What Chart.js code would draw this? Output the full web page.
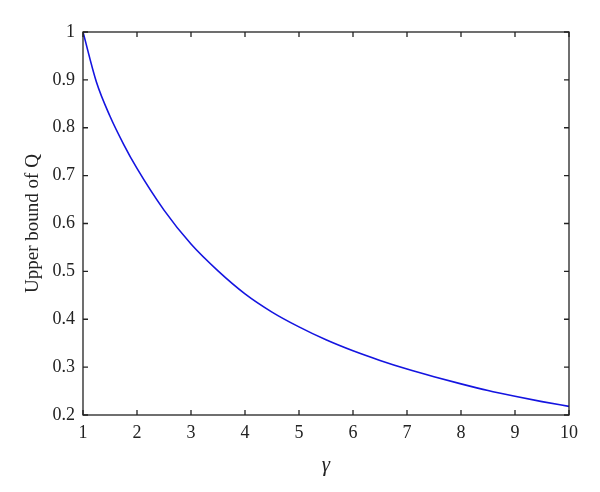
<!DOCTYPE html>
<html>
<head>
<meta charset="utf-8">
<script src="https://cdn.jsdelivr.net/npm/chart.js@4/dist/chart.umd.min.js"></script>
<style>
  html, body { margin: 0; padding: 0; background: #fff; }
  #wrap { width: 600px; height: 492px; }
</style>
</head>
<body>
<div id="wrap"><canvas id="myChart" width="600" height="492"></canvas></div>
<script>
// values
var gammaValues = [1, 1.25, 1.5, 1.75, 2, 2.5, 3, 3.5, 4, 4.5, 5, 5.5, 6, 6.5, 7, 7.5, 8, 8.5, 9, 9.5, 10]
var boundValues = [1, 0.895, 0.824, 0.766, 0.715, 0.628, 0.557, 0.501, 0.453, 0.415, 0.384, 0.357, 0.334, 0.314, 0.296, 0.28, 0.265, 0.251, 0.239, 0.228, 0.218]
var xTickLabels = ['1', '2', '3', '4', '5', '6', '7', '8', '9', '10']
var yTickLabels = ['0.2', '0.3', '0.4', '0.5', '0.6', '0.7', '0.8', '0.9', '1']

var axisColor = '#222'
var serif = '"Liberation Serif", "DejaVu Serif", serif'

var points = []
for (let i = 0; i < gammaValues.length; i++) {
    points.push({x: gammaValues[i], y: boundValues[i]})
}

// box round the plot, with ticks pointing inward on all four sides
const boxPlugin = {
    id: 'box',
    afterDraw(chart) {
        var ctx = chart.ctx
        var a = chart.chartArea
        var xs = chart.scales.x
        var ys = chart.scales.y
        ctx.save()
        ctx.strokeStyle = axisColor
        ctx.lineWidth = 1.3
        ctx.strokeRect(a.left, a.top, a.right - a.left, a.bottom - a.top)
        var len = 5
        ctx.beginPath()
        xs.ticks.forEach(function (t) {
            var px = xs.getPixelForValue(t.value)
            ctx.moveTo(px, a.bottom); ctx.lineTo(px, a.bottom - len)
            ctx.moveTo(px, a.top); ctx.lineTo(px, a.top + len)
        })
        ys.ticks.forEach(function (t) {
            var py = ys.getPixelForValue(t.value)
            ctx.moveTo(a.left, py); ctx.lineTo(a.left + len, py)
            ctx.moveTo(a.right, py); ctx.lineTo(a.right - len, py)
        })
        ctx.stroke()
        ctx.restore()
    }
}

var ctx = document.getElementById('myChart')
var myChart = new Chart(ctx, {
    type: 'line',
    data: {
        datasets: [{
            data: points,
            borderColor: '#1414e0',
            borderWidth: 1.6,
            pointRadius: 0,
            fill: false,
            cubicInterpolationMode: 'monotone'
        }]
    },
    options: {
        responsive: false,
        animation: false,
        layout: { padding: { top: 32, right: 31, left: 0, bottom: 0 } },
        plugins: { legend: { display: false }, tooltip: { enabled: false } },
        scales: {
            x: {
                type: 'linear',
                min: 1,
                max: 10,
                border: { display: false },
                grid: { display: false, drawTicks: false },
                ticks: {
                    stepSize: 1,
                    padding: 7,
                    color: axisColor,
                    maxRotation: 0,
                    font: { family: serif, size: 18 },
                    callback: function (v, i) { return xTickLabels[i] }
                },
                title: {
                    display: true,
                    text: 'γ',
                    color: axisColor,
                    font: { family: serif, size: 21, style: 'italic' },
                    padding: { top: 0, bottom: 14 }
                },
                afterFit: function (scale) { scale.height = 77 }
            },
            y: {
                min: 0.2,
                max: 1,
                border: { display: false },
                grid: { display: false, drawTicks: false },
                ticks: {
                    stepSize: 0.1,
                    padding: 8,
                    color: axisColor,
                    font: { family: serif, size: 18 },
                    callback: function (v, i) { return yTickLabels[i] }
                },
                title: {
                    display: true,
                    text: 'Upper bound of Q',
                    color: axisColor,
                    font: { family: serif, size: 19 },
                    padding: { top: 22, bottom: 0 }
                },
                afterFit: function (scale) { scale.width = 83 }
            }
        }
    },
    plugins: [boxPlugin]
});
</script>
</body>
</html>
